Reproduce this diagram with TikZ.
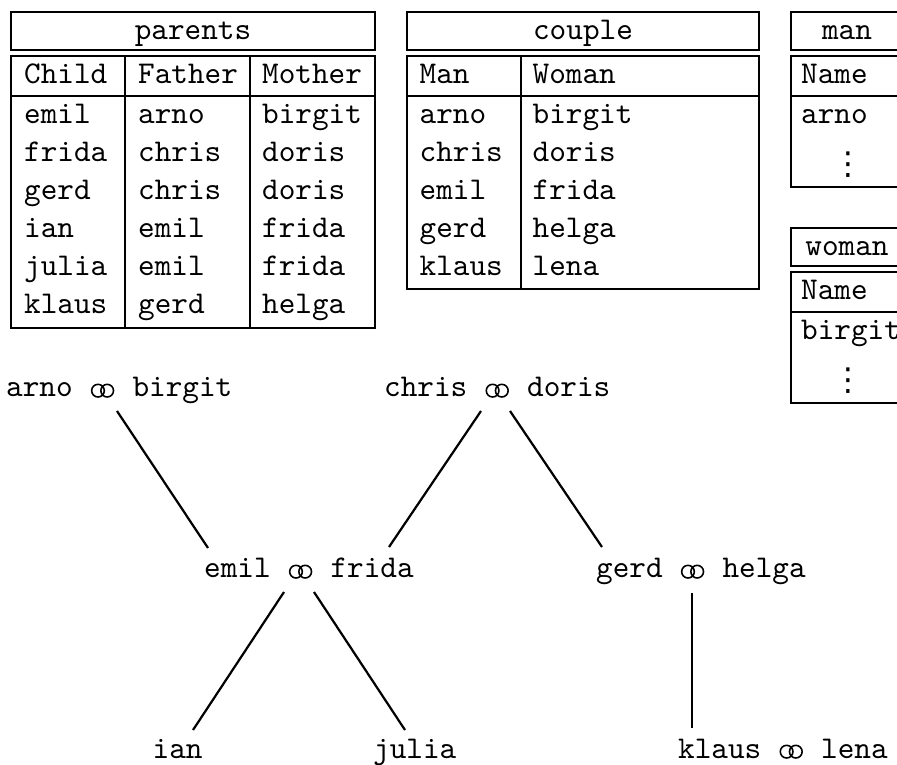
\documentclass[tikz,border=0pt]{standalone}
\usepackage{fontspec}
\usetikzlibrary{calc}
\newfontfamily\symfont{DejaVu Sans}

% marriage sign: two interlocking rings sitting on the baseline
\newcommand\wedring{\tikz[baseline=0pt,x=1pt,y=1pt,line width=0.5pt]
  \draw (0,0) (7.9,0) (2.5,2.0) circle[radius=2.0] (5.4,2.0) circle[radius=2.0];}

\tikzset{
  tblline/.style={draw, line width=0.4pt},
  cell/.style={anchor=base west, inner sep=0pt, font=\ttfamily},
  ttl/.style={anchor=base, inner sep=0pt, font=\ttfamily},
  lbl/.style={anchor=base west, inner sep=0pt, font=\ttfamily},
  dots/.style={anchor=base, inner sep=0pt, font=\symfont\fontsize{10}{10}\selectfont},
  kin/.style={line width=0.7pt},
}

\begin{document}
\begin{tikzpicture}[x=0.3157pt, y=-0.3157pt]
\useasboundingbox (0,0) rectangle (897,765);
\clip (0,0) rectangle (897,765);

% ---------- table: parents ----------
\draw[tblline] (11,12) rectangle (375,50);
\node[ttl] (parents-t) at (193,40) {parents};
\draw[tblline] (11,56) rectangle (375,328);
\draw[tblline] (11,96) -- (375,96) (125,56) -- (125,328) (250,56) -- (250,328);
\node[cell] (pa-h1) at (23.5,84) {Child};
\node[cell] (pa-h2) at (137.5,84) {Father};
\node[cell] (pa-h3) at (261.5,84) {Mother};
\foreach \c/\f/\m [count=\i] in {emil/arno/birgit, frida/chris/doris, gerd/chris/doris,
    ian/emil/frida, julia/emil/frida, klaus/gerd/helga}{
  \node[cell] (pa-c\i) at (23.5,{124+38*(\i-1)}) {\c};
  \node[cell] (pa-f\i) at (137.5,{124+38*(\i-1)}) {\f};
  \node[cell] (pa-m\i) at (261.5,{124+38*(\i-1)}) {\m};
}

% ---------- table: couple ----------
\draw[tblline] (407,12) rectangle (759,50);
\node[ttl] (couple-t) at (583,40) {couple};
\draw[tblline] (407,56) rectangle (759,289);
\draw[tblline] (407,96) -- (759,96) (521,56) -- (521,289);
\node[cell] (co-h1) at (419,84) {Man};
\node[cell] (co-h2) at (532,84) {Woman};
\foreach \a/\b [count=\i] in {arno/birgit, chris/doris, emil/frida, gerd/helga, klaus/lena}{
  \node[cell] (co-a\i) at (419,{124+38*(\i-1)}) {\a};
  \node[cell] (co-b\i) at (532,{124+38*(\i-1)}) {\b};
}

% ---------- table: man ----------
\draw[tblline] (791,12) rectangle (905,50);
\node[ttl] (man-t) at (847,40) {man};
\draw[tblline] (791,56) rectangle (920,187);
\draw[tblline] (791,96) -- (920,96);
\node[cell] (ma-h) at (800.5,84) {Name};
\node[cell] (ma-1) at (800.5,124) {arno};
\node[dots] (ma-2) at (848,175) {⋮};

% ---------- table: woman ----------
\draw[tblline] (791,228) rectangle (905,266);
\node[ttl] (woman-t) at (847,256) {woman};
\draw[tblline] (791,272) rectangle (920,403);
\draw[tblline] (791,312) -- (920,312);
\node[cell] (wo-h) at (800.5,300) {Name};
\node[cell] (wo-1) at (800.5,340) {birgit};
\node[dots] (wo-2) at (848,391) {⋮};

% ---------- family tree ----------
\node[lbl] (ab) at (5.5,397) {arno \wedring\ birgit};
\node[lbl] (cd) at (383.5,397) {chris \wedring\ doris};
\node[lbl] (ef) at (203.5,578) {emil \wedring\ frida};
\node[lbl] (gh) at (595.5,578) {gerd \wedring\ helga};
\node[lbl] (ian) at (152,758) {ian};
\node[lbl] (julia) at (372.5,758) {julia};
\node[lbl] (kl) at (677.5,758) {klaus \wedring\ lena};

\coordinate (ab-o)  at (117,411);
\coordinate (cd-o1) at (481,411);
\coordinate (cd-o2) at (510,411);
\coordinate (ef-i1) at (208,548);
\coordinate (ef-i2) at (389,547);
\coordinate (gh-i)  at (602,547);
\coordinate (ef-o1) at (284,592);
\coordinate (ef-o2) at (314,592);
\coordinate (ian-i) at (193,730);
\coordinate (julia-i) at (405,730);
\coordinate (gh-o)  at (692,593);
\coordinate (kl-i)  at (692,728);

\draw[kin] (ab-o) -- (ef-i1);
\draw[kin] (cd-o1) -- (ef-i2);
\draw[kin] (cd-o2) -- (gh-i);
\draw[kin] (ef-o1) -- (ian-i);
\draw[kin] (ef-o2) -- (julia-i);
\draw[kin] (gh-o) -- (kl-i);
\end{tikzpicture}
\end{document}
